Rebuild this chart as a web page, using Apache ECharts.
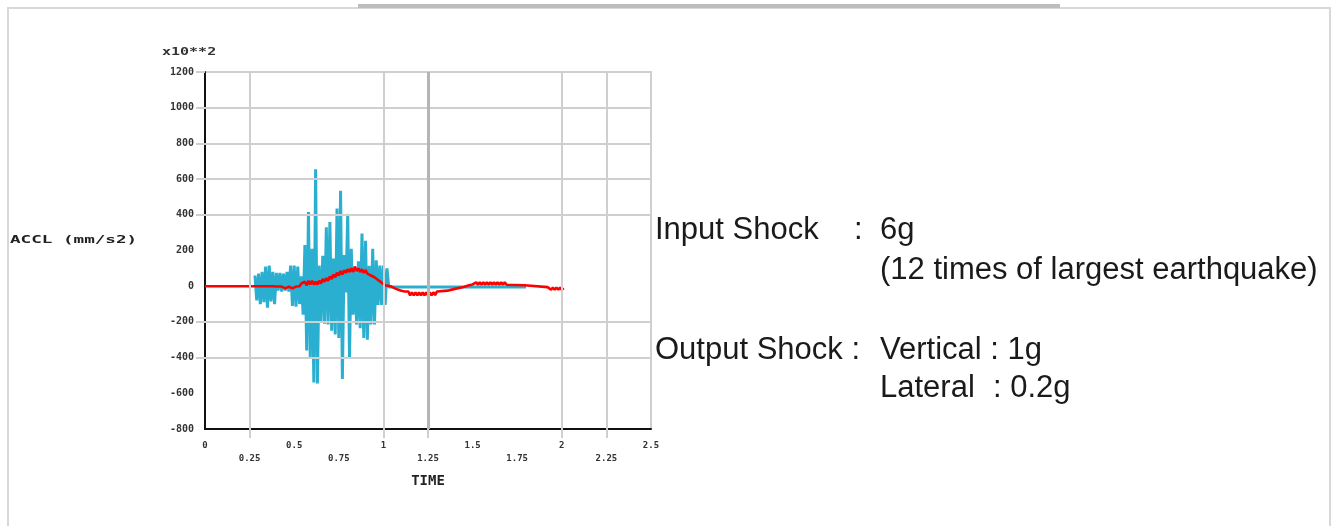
<!DOCTYPE html>
<html>
<head>
<meta charset="utf-8">
<script src="https://cdn.jsdelivr.net/npm/echarts@6/dist/echarts.min.js"></script>
<style>
html,body{margin:0;padding:0;background:#fff;}
#chart{width:1333px;height:526px;}
</style>
</head>
<body>
<div id="chart"></div>
<script>
// ---- data (x10^2 mm/s^2 vs time s) ----
var xTickLabels = ['0','0.25','0.5','0.75','1','1.25','1.5','1.75','2','2.25','2.5'];
var yTickLabels = ['-800','-600','-400','-200','0','200','400','600','800','1000','1200'];
var xGridValues = [0.25, 1, 2, 2.25];
var xGridStrong = [1.25];
var yGridValues = [1200, 1000, 800, 600, 400, -200, -400];

var inputTime = [0.28,0.29,0.30,0.31,0.32,0.33,0.34,0.35,0.36,0.37,0.38,0.39,0.40,0.41,0.42,0.43,0.44,0.45,0.46,0.47,
  0.48,0.49,0.50,0.51,0.52,0.53,0.54,0.55,0.56,0.57,0.58,0.59,0.60,0.61,0.62,0.63,0.64,0.65,0.66,0.67,
  0.68,0.69,0.70,0.71,0.72,0.73,0.74,0.75,0.76,0.77,0.78,0.79,0.80,0.81,0.82,0.83,0.84,0.85,0.86,0.87,
  0.88,0.89,0.90,0.91,0.92,0.93,0.94,0.95,0.96,0.97,0.98,0.99,1.00,1.01,1.02,1.03,1.80];
var inputAccel = [60,-80,70,-100,80,-90,110,-120,115,-85,80,-100,75,-25,75,-30,70,-25,80,-30,
  115,-110,115,-115,110,-100,55,-160,230,-360,415,-400,210,-540,655,-545,115,-195,170,-210,
  330,-215,360,-250,155,-270,435,-290,535,-520,175,-35,405,-400,210,-160,100,-215,140,-235,
  295,-290,255,-300,115,-215,210,-215,145,-105,115,-105,115,-105,100,-5,-5];

var outputTime = [0,0.38,0.40,0.41,0.43,0.45,0.47,0.49,0.51,0.52,0.53,0.54,0.55,0.56,0.57,0.58,0.59,0.60,0.61,0.62,
  0.63,0.64,0.65,0.66,0.67,0.68,0.69,0.70,0.71,0.72,0.73,0.74,0.75,0.76,0.77,0.78,0.79,0.80,0.81,0.82,
  0.83,0.84,0.85,0.86,0.87,0.88,0.89,0.90,0.91,0.92,0.93,0.94,0.95,0.96,0.97,0.98,0.99,1.00,1.01,1.02,
  1.04,1.07,1.10,1.12,1.14,1.15,1.16,1.17,1.18,1.19,1.20,1.21,1.22,1.23,1.24,1.25,1.26,1.27,1.28,1.29,1.30,
  1.31,1.36,1.40,1.45,1.48,1.50,1.51,1.52,1.53,1.54,1.55,1.56,1.57,1.58,1.59,1.60,1.61,1.62,1.63,1.64,1.65,
  1.66,1.67,1.68,1.69,1.70,1.79,1.80,1.92,1.93,1.94,1.95,1.96,1.97,1.98,1.99,2.00,2.01];
var outputAccel = [0,0,-2,-12,-2,-12,-2,-12,-2,-10,0,15,5,25,5,30,10,30,10,25,
  10,30,15,40,25,45,30,55,40,65,50,75,60,85,65,90,75,95,80,100,
  80,110,85,100,80,95,75,90,70,80,60,70,50,55,35,40,20,25,5,15,
  0,-15,-25,-30,-30,-52,-34,-52,-34,-52,-34,-52,-34,-52,-34,-52,-34,-52,-34,-50,-30,
  -25,-25,-15,-5,5,10,8,22,8,22,8,22,8,22,8,22,8,22,8,22,8,
  22,8,22,8,5,5,-5,-5,-8,-20,-8,-20,-8,-20,-8,-20,-10];

function zip(a, b) { return a.map(function (t, i) { return [t, b[i]]; }); }

var chart = echarts.init(document.getElementById('chart'), null, {renderer: 'canvas'});
var G = '#cfcfcf';
var textFont = '"Liberation Sans", Arial, sans-serif';
var txtColor = '#1a1a1a';
var monoBold = 'bold 10px "DejaVu Sans Mono"';

var gridLines = []
  .concat(xGridValues.map(function (v) { return {xAxis: v}; }))
  .concat(yGridValues.filter(function (v) { return v < 1200; }).map(function (v) { return {yAxis: v}; }))
  .concat(xGridStrong.map(function (v) { return {xAxis: v, lineStyle: {color: '#b5b5b5', width: 3}}; }));

chart.setOption({
  backgroundColor: '#ffffff',
  animation: false,
  grid: {left: 205, top: 72, right: 682, bottom: 97, show: true, borderColor: G, borderWidth: 2},
  xAxis: {
    type: 'value', min: 0, max: 2.5, interval: 0.25,
    name: 'TIME', nameLocation: 'middle', nameGap: 45,
    nameTextStyle: {fontSize: 14, fontWeight: 'bold', color: '#222', fontFamily: 'DejaVu Sans Mono'},
    axisLine: {show: true, onZero: false, lineStyle: {color: '#111', width: 2}},
    axisTick: {show: true, length: 9, customValues: xGridValues.concat(xGridStrong), lineStyle: {color: G, width: 2}},
    axisLabel: {
      fontSize: 9, color: '#333', fontWeight: 'bold', margin: 10, lineHeight: 13,
      fontFamily: 'DejaVu Sans Mono',
      formatter: function (v) {
        var i = Math.round(v / 0.25);
        var s = xTickLabels[i];
        return (i % 2 === 1) ? '\n' + s : s;
      }
    },
    splitLine: {show: false}
  },
  yAxis: {
    type: 'value', min: -800, max: 1200, interval: 200,
    axisLine: {show: true, onZero: false, lineStyle: {color: '#111', width: 2}},
    axisTick: {show: true, length: 9, customValues: yGridValues, lineStyle: {color: G, width: 2}},
    axisLabel: {
      fontSize: 10, color: '#333', fontWeight: 'bold', margin: 11, fontFamily: 'DejaVu Sans Mono',
      formatter: function (v) { return yTickLabels[Math.round((v + 800) / 200)]; }
    },
    splitLine: {show: false}
  },
  series: [
    {
      name: 'grid', type: 'line', data: [], z: 1, silent: true,
      markLine: {
        silent: true, symbol: 'none', label: {show: false}, animation: false,
        lineStyle: {color: G, width: 2, type: 'solid'},
        data: gridLines
      }
    },
    {
      name: 'Input', type: 'line', data: zip(inputTime, inputAccel),
      showSymbol: false, symbol: 'none',
      lineStyle: {color: '#2bafd0', width: 3}, z: 2
    },
    {
      name: 'Output', type: 'line', data: zip(outputTime, outputAccel),
      showSymbol: false, symbol: 'none',
      lineStyle: {color: '#ff0000', width: 2.6}, z: 3
    }
  ],
  graphic: [
    {type: 'rect', shape: {x: 8, y: 8, width: 1322, height: 530}, style: {fill: 'none', stroke: '#d8d8d8', lineWidth: 2}, z: -10},
    {type: 'rect', shape: {x: 358, y: 4, width: 702, height: 4}, style: {fill: '#bdbdbd'}, z: -9},
    {type: 'text', x: 162, y: 52, scaleX: 1.5, style: {text: 'x10**2', font: monoBold, fill: '#333', textVerticalAlign: 'middle'}},
    {type: 'text', x: 10, y: 240, scaleX: 1.6, style: {text: 'ACCL (mm/s2)', font: 'bold 11px "DejaVu Sans Mono"', fill: '#222', textVerticalAlign: 'middle'}},
    {type: 'text', x: 655, y: 230, style: {text: 'Input Shock', font: '31px ' + textFont, fill: txtColor, textVerticalAlign: 'middle'}},
    {type: 'text', x: 854, y: 230, style: {text: ':', font: '31px ' + textFont, fill: txtColor, textVerticalAlign: 'middle'}},
    {type: 'text', x: 880, y: 230, style: {text: '6g', font: '31px ' + textFont, fill: txtColor, textVerticalAlign: 'middle'}},
    {type: 'text', x: 880, y: 270, style: {text: '(12 times of largest earthquake)', font: '31px ' + textFont, fill: txtColor, textVerticalAlign: 'middle'}},
    {type: 'text', x: 655, y: 350, style: {text: 'Output Shock :', font: '31px ' + textFont, fill: txtColor, textVerticalAlign: 'middle'}},
    {type: 'text', x: 880, y: 350, style: {text: 'Vertical : 1g', font: '31px ' + textFont, fill: txtColor, textVerticalAlign: 'middle'}},
    {type: 'text', x: 880, y: 388, style: {text: 'Lateral', font: '31px ' + textFont, fill: txtColor, textVerticalAlign: 'middle'}},
    {type: 'text', x: 993, y: 388, style: {text: ': 0.2g', font: '31px ' + textFont, fill: txtColor, textVerticalAlign: 'middle'}}
  ]
});
</script>
</body>
</html>
